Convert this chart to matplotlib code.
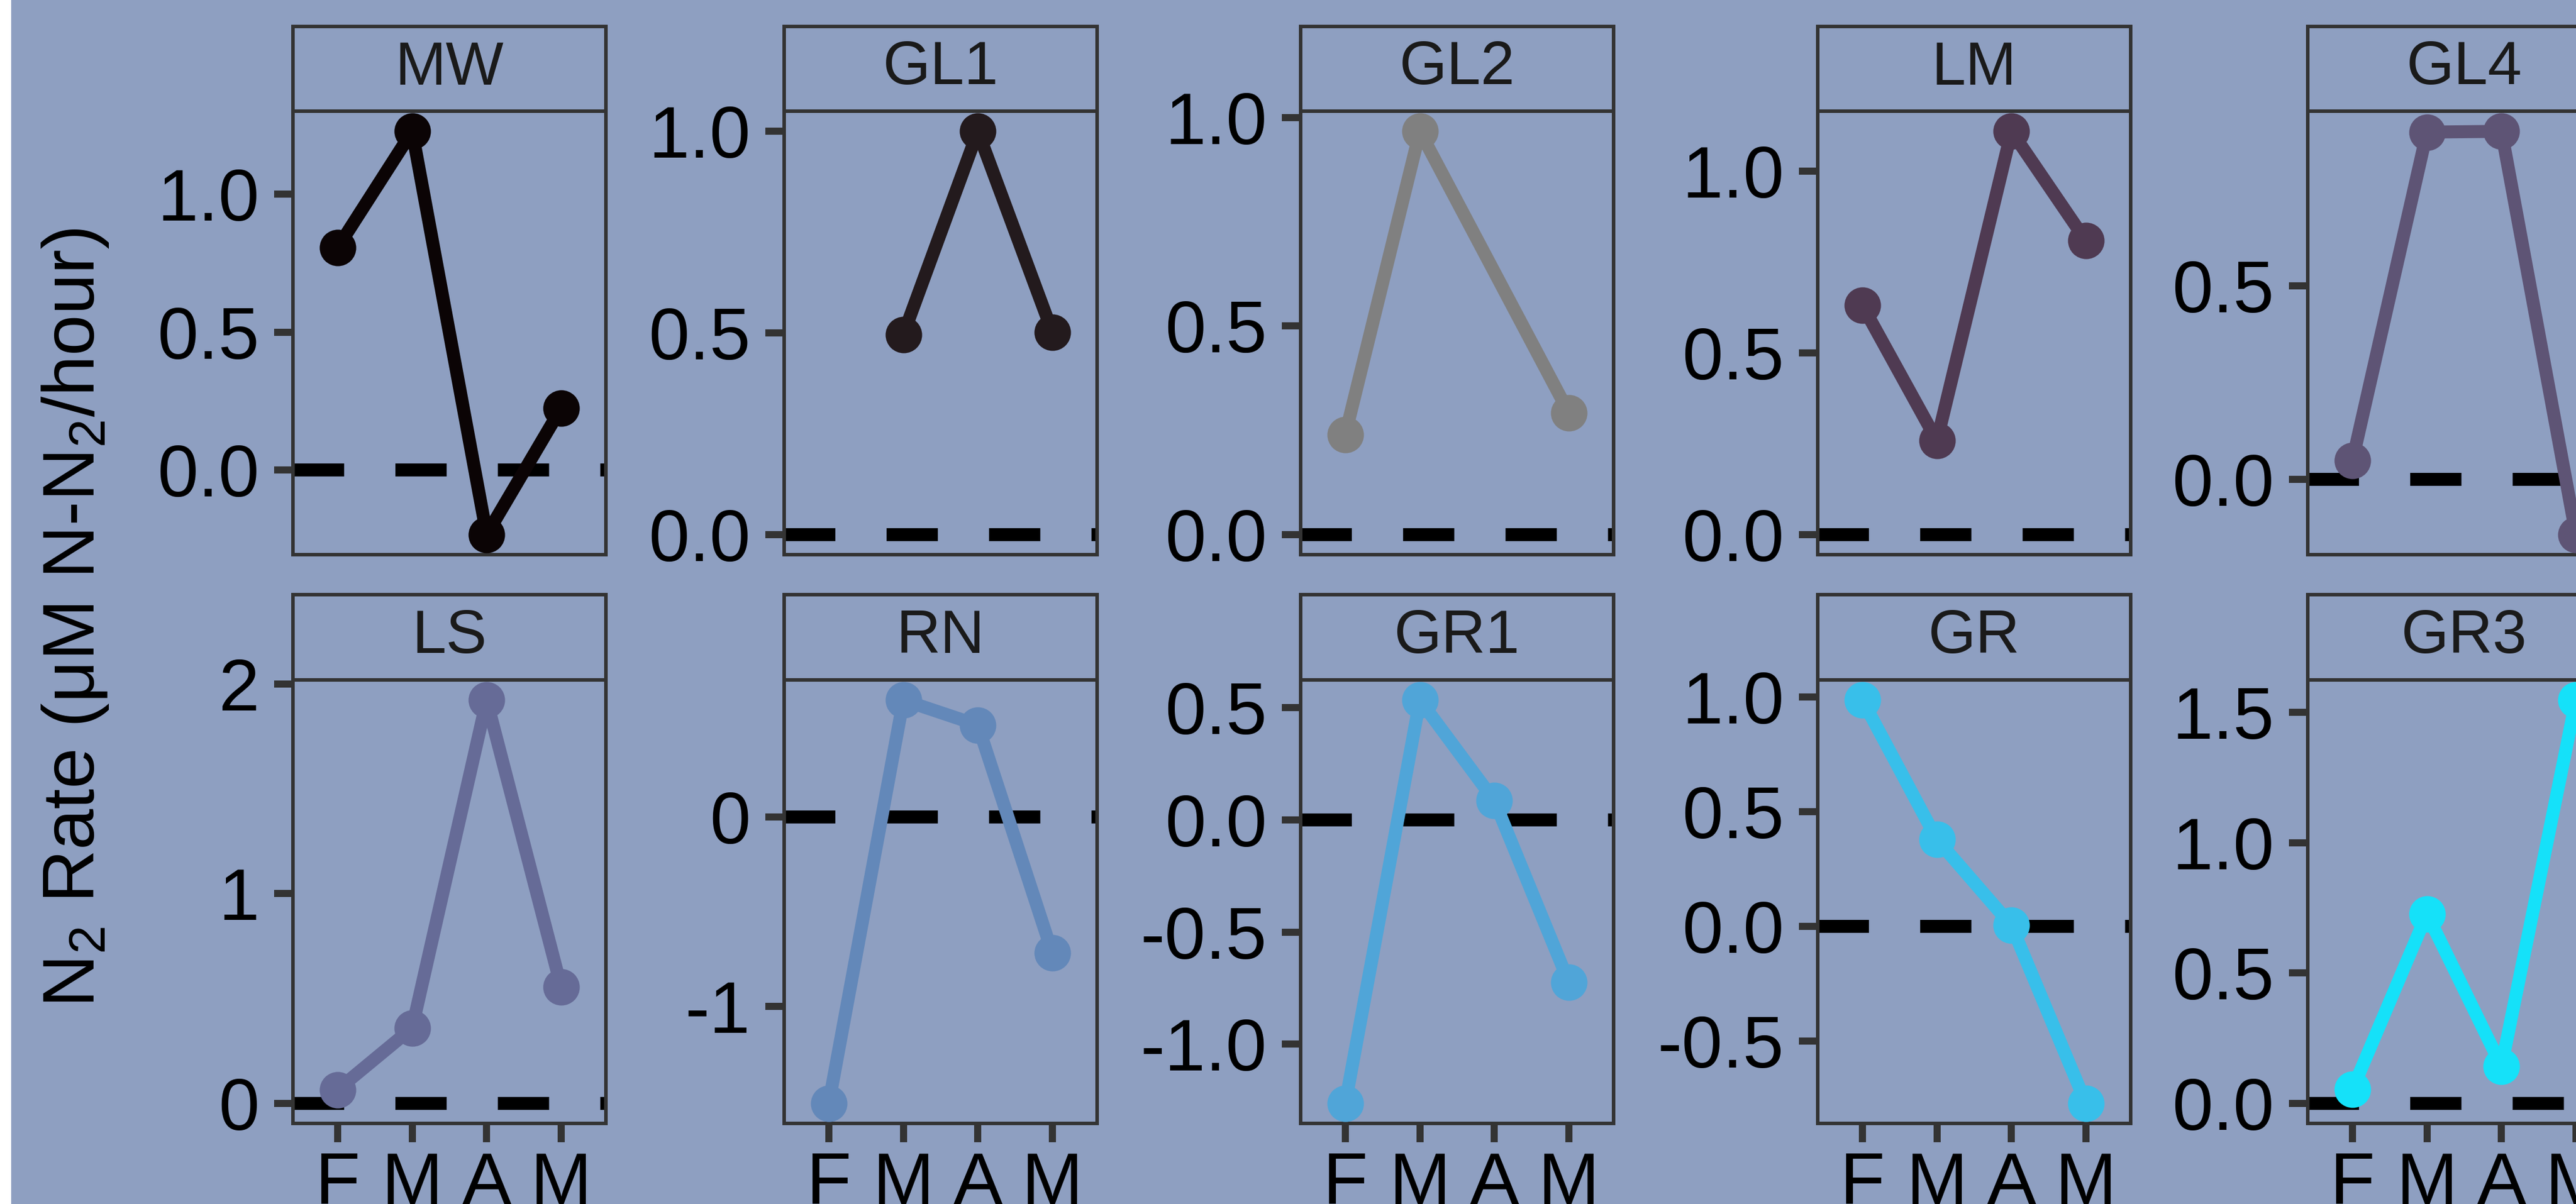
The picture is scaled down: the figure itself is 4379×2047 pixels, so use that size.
import matplotlib
matplotlib.use("Agg")
import matplotlib.pyplot as plt
from matplotlib.patches import Rectangle

plt.rcParams["font.family"] = ["Liberation Sans", "DejaVu Sans"]
plt.rcParams["mathtext.fontset"] = "custom"
plt.rcParams["mathtext.rm"] = "Liberation Sans"
plt.rcParams["mathtext.default"] = "regular"
plt.rcParams["axes.unicode_minus"] = False
plt.rcParams["lines.scale_dashes"] = False

# ── data ──────────────────────────────────────────────────────────────
months = ["F", "M", "A", "M"]

sites_top = ["MW", "GL1", "GL2", "LM", "GL4"]
sites_bottom = ["LS", "RN", "GR1", "GR", "GR3"]

# N2 production per month (µM N-N2/hour); None = site not sampled
mw = [0.807, 1.229, -0.235, 0.224]
gl1 = [None, 0.496, 1.000, 0.502]
gl2 = [0.240, 0.967, None, 0.292]
lm = [0.630, 0.258, 1.109, 0.808]
gl4 = [0.048, 0.897, 0.899, -0.143]
ls = [0.065, 0.359, 1.924, 0.554]
rn = [-1.513, 0.619, 0.487, -0.719]
gr1 = [-1.263, 0.534, 0.086, -0.724]
gr = [0.987, 0.379, 0.004, -0.772]
gr3 = [0.053, 0.727, 0.142, 1.547]

site_colors = ["#0b0405", "#231a1d", "#808080", "#4f3a52", "#5e5475",
               "#666b97", "#6388b9", "#50a5d8", "#38bfea", "#15e1f9"]

# y-axis breaks and their labels per panel
yticks = [[0.0, 0.5, 1.0], [0.0, 0.5, 1.0], [0.0, 0.5, 1.0], [0.0, 0.5, 1.0], [0.0, 0.5],
          [0, 1, 2], [-1, 0], [-1.0, -0.5, 0.0, 0.5], [-0.5, 0.0, 0.5, 1.0],
          [0.0, 0.5, 1.0, 1.5]]
ylabels = [["0.0", "0.5", "1.0"], ["0.0", "0.5", "1.0"], ["0.0", "0.5", "1.0"],
           ["0.0", "0.5", "1.0"], ["0.0", "0.5"],
           ["0", "1", "2"], ["-1", "0"], ["-1.0", "-0.5", "0.0", "0.5"],
           ["-0.5", "0.0", "0.5", "1.0"], ["0.0", "0.5", "1.0", "1.5"]]

series = [mw, gl1, gl2, lm, gl4, ls, rn, gr1, gr, gr3]
sites = sites_top + sites_bottom

# ── layout (pixels at 300 dpi) ────────────────────────────────────────
W, H, DPI = 4379, 2047, 300
BG = "#8e9fc1"
INK = "#333333"
col_left = [498, 1333, 2211, 3090, 3923]
panel_w = 532
row_strip_top = [45, 1011]
row_panel_top = [189, 1156]
panel_h = 754

LW = 5.3
MS = 14.9
DASH = (0, (20.9, 20.9))

fig = plt.figure(figsize=(W / DPI, H / DPI), dpi=DPI, facecolor=BG)
fig.patches.append(Rectangle((0, 0), 19 / W, 1, transform=fig.transFigure,
                             facecolor="white", edgecolor="none", zorder=10))


def frac(x, y_top, w, h):
    return [x / W, 1 - (y_top + h) / H, w / W, h / H]


for i, (site, vals) in enumerate(zip(sites, series)):
    row, col = divmod(i, 5)
    x0 = col_left[col]

    ax = fig.add_axes(frac(x0, row_panel_top[row], panel_w, panel_h))
    ax.set_facecolor(BG)

    xs = [k + 1 for k, v in enumerate(vals) if v is not None]
    ys = [v for v in vals if v is not None]

    # y range includes the zero reference, padded 5% each side
    lo, hi = min(ys + [0.0]), max(ys + [0.0])
    pad = 0.05 * (hi - lo)
    ax.set_ylim(lo - pad, hi + pad)
    ax.set_xlim(0.4, 4.6)

    ax.axhline(0, color="black", lw=LW, linestyle=DASH, zorder=2)
    ax.plot(xs, ys, color=site_colors[i], lw=LW, zorder=3,
            marker="o", ms=MS, mec="none", solid_capstyle="butt")

    ax.set_yticks(yticks[i])
    ax.set_yticklabels(ylabels[i])
    ax.set_xticks(range(1, 5))
    ax.set_xticklabels(months)
    ax.tick_params(length=7.7, width=2.9, color=INK, labelsize=30,
                   labelcolor="black", pad=6)
    ax.tick_params(axis="x", pad=3.5)
    if row == 0:
        ax.tick_params(axis="x", bottom=False, labelbottom=False)
    for sp in ax.spines.values():
        sp.set_color(INK)
        sp.set_linewidth(1.44)

    # facet strip
    sax = fig.add_axes(frac(x0, row_strip_top[row], panel_w,
                            row_panel_top[row] - row_strip_top[row]))
    sax.set_facecolor(BG)
    sax.set_xticks([])
    sax.set_yticks([])
    for sp in sax.spines.values():
        sp.set_color(INK)
        sp.set_linewidth(1.44)
    sax.text(0.5, 0.5, site, ha="center", va="center", fontsize=25,
             color="#1a1a1a", transform=sax.transAxes)

fig.text(128 / W, 1 - 1050 / H, r"N$_2$ Rate (μM N-N$_2$/hour)", rotation=90,
         ha="center", va="center", fontsize=30, color="black")

fig.savefig("out.png", dpi=DPI, facecolor=BG)
